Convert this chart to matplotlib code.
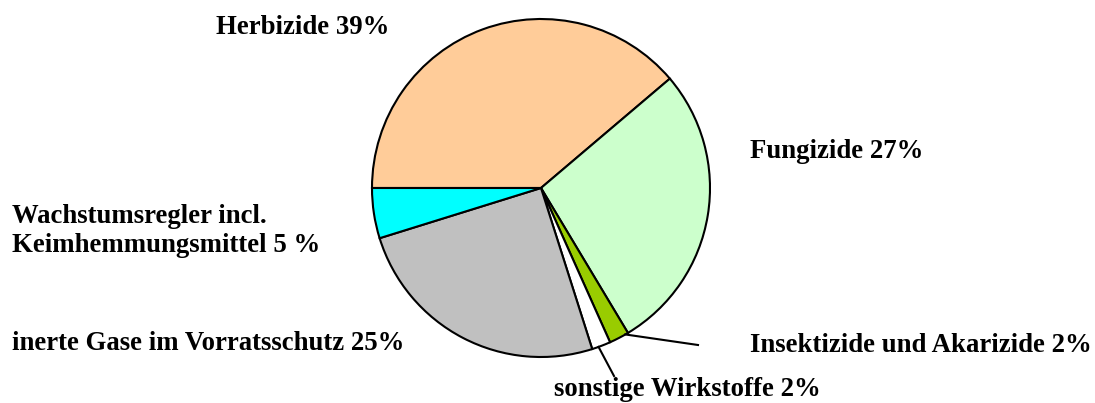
import numpy as np
import matplotlib.pyplot as plt

# Anteile der Wirkstoffgruppen (%)
labels = ['Herbizide 39%', 'Fungizide 27%', 'Insektizide und Akarizide 2%',
          'sonstige Wirkstoffe 2%', 'inerte Gase im Vorratsschutz 25%',
          'Wachstumsregler incl.\nKeimhemmungsmittel 5 %']
values = [38.8, 27.6, 1.9, 1.8, 25.1, 4.8]
colors = ['#FFCC99', '#CCFFCC', '#99CC00', '#FFFFFF', '#C0C0C0', '#00FFFF']

# label positions in pixel coords (x, y from bottom)
label_pos = [(216, 376), (750, 251), (750, 58),
             (554, 13), (12, 59), (12, 172)]

W, H = 1095, 403
fig = plt.figure(figsize=(W / 100, H / 100), dpi=100)
ax = fig.add_axes([0, 0, 1, 1])

cx, cy, r = 541, 215, 169
wedges, _ = ax.pie(values, colors=colors, startangle=180, counterclock=False,
                   center=(cx, cy), radius=r, frame=True,
                   wedgeprops=dict(edgecolor='black', linewidth=1.5))
ax.set_xlim(0, W)
ax.set_ylim(0, H)
ax.axis('off')

# leader lines for the small slices (wedge index: end point, position along the arc)
leader_end = {2: ((698, 58), 0.85), 3: ((614, 27), 0.35)}
for i, (end, frac) in leader_end.items():
    w = wedges[i]
    ang = np.deg2rad(w.theta1 + frac * (w.theta2 - w.theta1))
    x0, y0 = cx + r * np.cos(ang), cy + r * np.sin(ang)
    ax.plot([x0, end[0]], [y0, end[1]], color='black', linewidth=1.5)

for lab, (x, y) in zip(labels, label_pos):
    ax.text(x, y, lab, ha='left', va='center', fontsize=19.3, fontweight='bold',
            family='Liberation Serif', linespacing=1.25)

fig.savefig('out.png', dpi=100)
